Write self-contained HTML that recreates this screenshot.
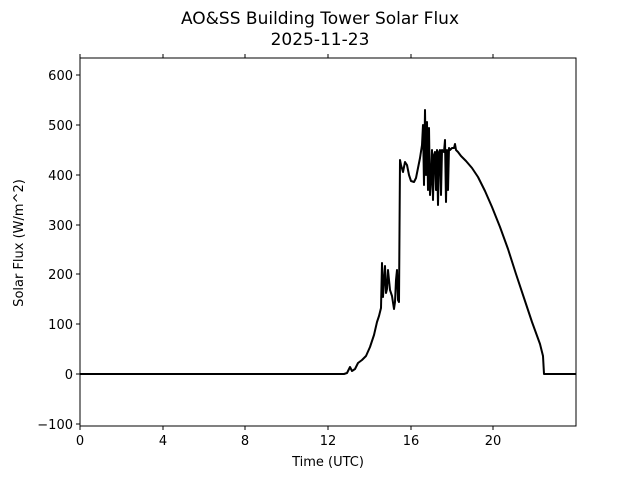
<!DOCTYPE html>
<html><head><style>body{margin:0;background:#fff}svg{display:block;font-family:"DejaVu Sans","Liberation Sans",sans-serif}</style></head><body>
<svg width="640" height="480" xmlns="http://www.w3.org/2000/svg">
<rect width="640" height="480" fill="#fff"/>
<text x="320" y="24" font-size="17" text-anchor="middle">AO&amp;SS Building Tower Solar Flux</text>
<text x="320" y="45" font-size="17" text-anchor="middle">2025-11-23</text>
<polyline fill="none" stroke="#000" stroke-width="2" stroke-linejoin="round" points="80,374 344,374 347,373 350,367 352,371 355,369 358,363 362,360 366,356 370,347 374,335 377,322 379,316 380,312 381,308 382,263 383,297 384,280 385,266 386,293 387,289 388,270 390,290 392,296 394,309 395,302 396,280 397,270 398,300 399,302 400,160 401,165 403,172 405,162 407,165 409,175 411,181 414,182 416,178 418,168 420,158 422,145 423,125 424,185 425,110 426,175 427,122 428,190 429,128 430,195 431,180 432,150 433,200 434,155 435,152 436,190 437,150 438,205 439,152 440,150 441,195 442,150 443,151 444,152 445,140 446,202 447,150 448,190 449,148 450,150 452,148 454,148 455,144 456,150 458,152 461,156 466,161 472,168 478,177 485,191 492,207 500,227 508,249 516,274 524,298 532,322 540,344 543,356 544,374 576,374"/>
<rect x="80" y="58" width="496" height="368" fill="none" stroke="#000" stroke-width="1"/>
<g stroke="#000" stroke-width="1">
<line x1="80" y1="426" x2="80" y2="430"/><line x1="163" y1="426" x2="163" y2="430"/><line x1="245" y1="426" x2="245" y2="430"/><line x1="328" y1="426" x2="328" y2="430"/><line x1="411" y1="426" x2="411" y2="430"/><line x1="493" y1="426" x2="493" y2="430"/>
<line x1="80" y1="58" x2="80" y2="54"/><line x1="163" y1="58" x2="163" y2="54"/><line x1="245" y1="58" x2="245" y2="54"/><line x1="328" y1="58" x2="328" y2="54"/><line x1="411" y1="58" x2="411" y2="54"/><line x1="493" y1="58" x2="493" y2="54"/>
<line x1="80" y1="75" x2="76" y2="75"/><line x1="80" y1="125" x2="76" y2="125"/><line x1="80" y1="175" x2="76" y2="175"/><line x1="80" y1="225" x2="76" y2="225"/><line x1="80" y1="274" x2="76" y2="274"/><line x1="80" y1="324" x2="76" y2="324"/><line x1="80" y1="374" x2="76" y2="374"/><line x1="80" y1="424" x2="76" y2="424"/>
</g>
<g font-size="13" text-anchor="middle">
<text x="80" y="445">0</text><text x="163" y="445">4</text><text x="245" y="445">8</text><text x="328" y="445">12</text><text x="411" y="445">16</text><text x="493" y="445">20</text>
<text x="328" y="466">Time (UTC)</text>
</g>
<g font-size="13" text-anchor="end">
<text x="73" y="80">600</text><text x="73" y="130">500</text><text x="73" y="180">400</text><text x="73" y="230">300</text><text x="73" y="279">200</text><text x="73" y="329">100</text><text x="73" y="379">0</text><text x="73" y="429">−100</text>
</g>
<text transform="translate(23,243) rotate(-90)" font-size="13" text-anchor="middle">Solar Flux (W/m^2)</text>
</svg>
</body></html>
